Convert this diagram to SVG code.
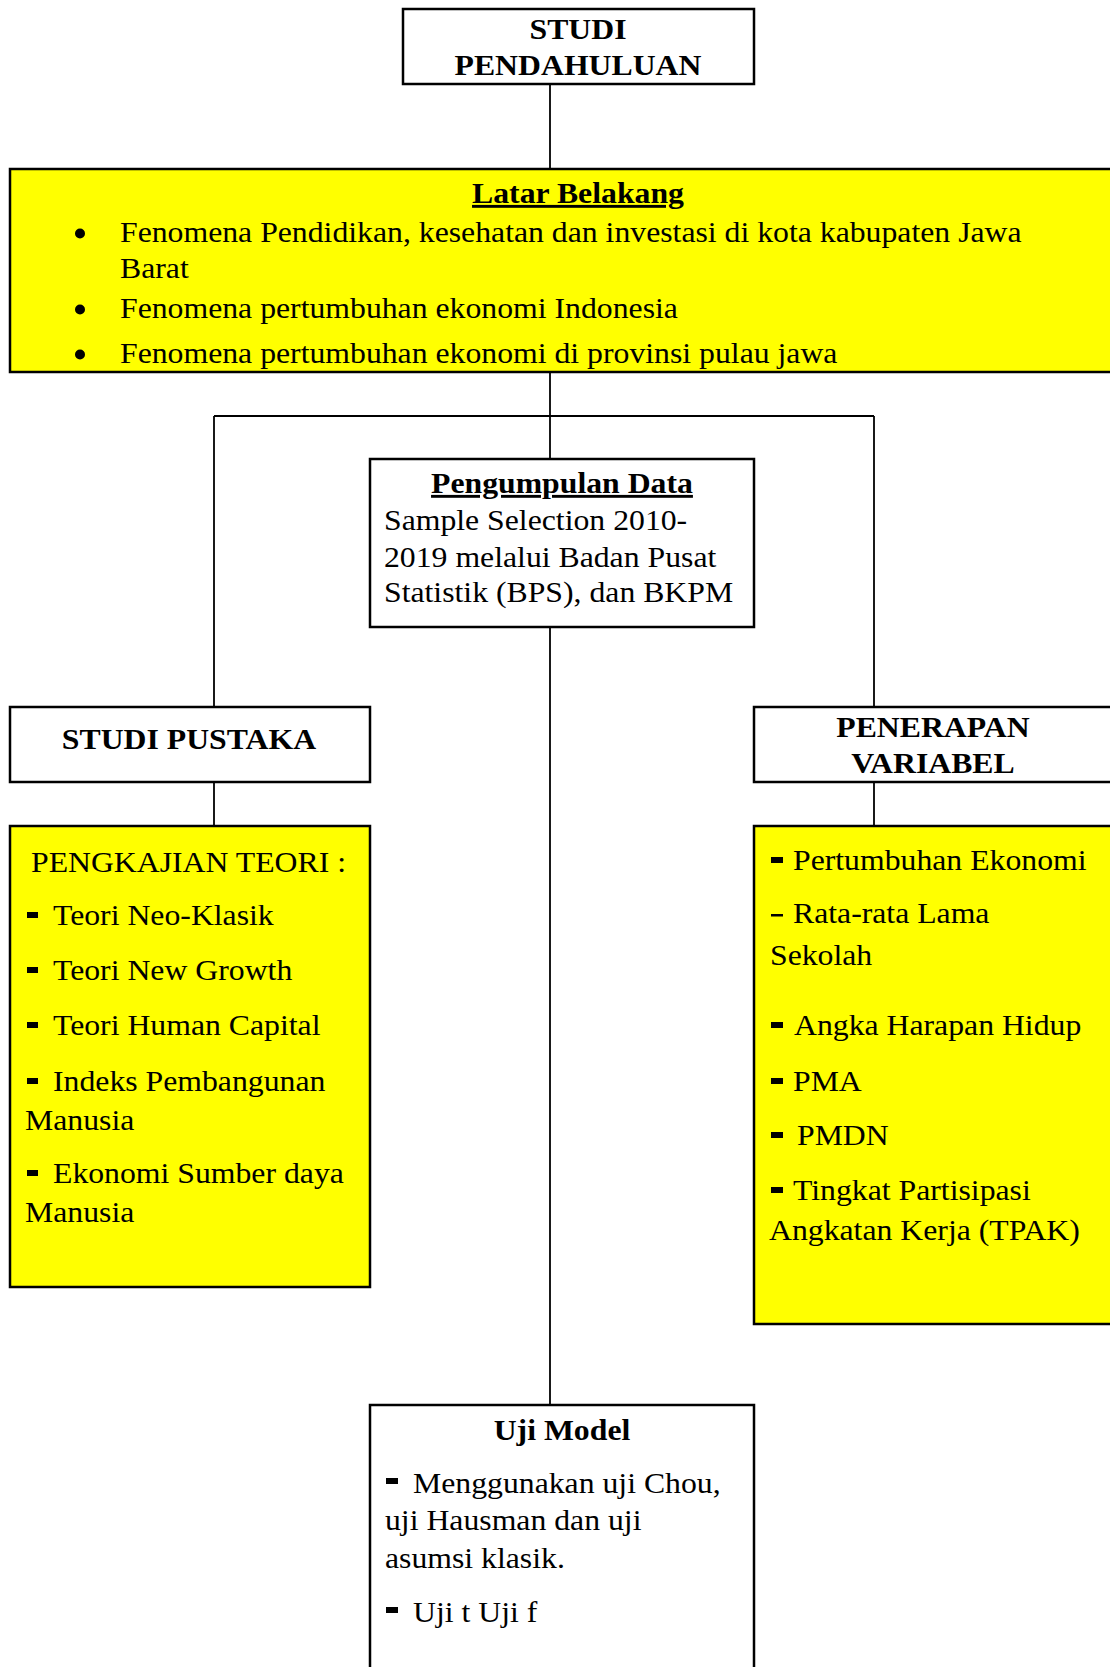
<svg xmlns="http://www.w3.org/2000/svg" width="1110" height="1667" viewBox="0 0 1110 1667">
<style>
.box{fill:#ffffff;stroke:#000;stroke-width:2.5}
.ybox{fill:#ffff00;stroke:#000;stroke-width:2.5}
.conn{stroke:#000;stroke-width:1.8;fill:none}
text{font-family:"Liberation Serif","Times New Roman",serif;font-size:29px;fill:#000}
.b{font-weight:bold}
.c{text-anchor:middle}
.u{text-decoration:underline}
.dot{fill:#000}
</style>
<rect width="1110" height="1667" fill="#ffffff"/>
<g id="connectors">
<line class="conn" x1="550" y1="84" x2="550" y2="169"/>
<line class="conn" x1="550" y1="372" x2="550" y2="459"/>
<line class="conn" x1="214" y1="416" x2="874" y2="416"/>
<line class="conn" x1="214" y1="416" x2="214" y2="707"/>
<line class="conn" x1="874" y1="416" x2="874" y2="707"/>
<line class="conn" x1="214" y1="782" x2="214" y2="826"/>
<line class="conn" x1="874" y1="782" x2="874" y2="826"/>
<line class="conn" x1="550" y1="627" x2="550" y2="1405"/>
</g>
<g id="studi-pendahuluan">
<rect class="box" x="403" y="9" width="351" height="75"/>
<g transform="scale(1.095,1)">
<text class="b c" x="527.85" y="39">STUDI</text>
<text class="b c" x="527.85" y="75">PENDAHULUAN</text>
</g>
</g>
<g id="latar-belakang">
<rect class="ybox" x="10" y="169" width="1140" height="203"/>
<circle class="dot" cx="80" cy="233.5" r="5"/>
<circle class="dot" cx="80" cy="309.5" r="5"/>
<circle class="dot" cx="80" cy="354.5" r="5"/>
<g transform="scale(1.095,1)">
<text class="b c u" x="527.85" y="203">Latar Belakang</text>
<text x="109.59" y="242">Fenomena Pendidikan, kesehatan dan investasi di kota kabupaten Jawa</text>
<text x="109.59" y="278">Barat</text>
<text x="109.59" y="318">Fenomena pertumbuhan ekonomi Indonesia</text>
<text x="109.59" y="363">Fenomena pertumbuhan ekonomi di provinsi pulau jawa</text>
</g>
</g>
<g id="pengumpulan-data">
<rect class="box" x="370" y="459" width="384" height="168"/>
<g transform="scale(1.095,1)">
<text class="b c u" x="513.24" y="493">Pengumpulan Data</text>
<text x="350.68" y="530">Sample Selection 2010-</text>
<text x="350.68" y="567">2019 melalui Badan Pusat</text>
<text x="350.68" y="602">Statistik (BPS), dan BKPM</text>
</g>
</g>
<g id="studi-pustaka">
<rect class="box" x="10" y="707" width="360" height="75"/>
<g transform="scale(1.095,1)">
<text class="b c" x="172.6" y="749">STUDI PUSTAKA</text>
</g>
</g>
<g id="penerapan-variabel">
<rect class="box" x="754" y="707" width="370" height="75"/>
<g transform="scale(1.095,1)">
<text class="b c" x="852.05" y="737">PENERAPAN</text>
<text class="b c" x="852.05" y="773">VARIABEL</text>
</g>
</g>
<g id="pengkajian-teori">
<rect class="ybox" x="10" y="826" width="360" height="461"/>
<rect class="dot" x="27" y="912" width="11" height="6"/>
<rect class="dot" x="27" y="967" width="11" height="6"/>
<rect class="dot" x="27" y="1022" width="11" height="6"/>
<rect class="dot" x="27" y="1078" width="11" height="6"/>
<rect class="dot" x="27" y="1170" width="11" height="6"/>
<g transform="scale(1.095,1)">
<text x="28.31" y="872">PENGKAJIAN TEORI :</text>
<text x="48.4" y="925">Teori Neo-Klasik</text>
<text x="48.4" y="980">Teori New Growth</text>
<text x="48.4" y="1035">Teori Human Capital</text>
<text x="48.4" y="1091">Indeks Pembangunan</text>
<text x="22.83" y="1130">Manusia</text>
<text x="48.4" y="1183">Ekonomi Sumber daya</text>
<text x="22.83" y="1222">Manusia</text>
</g>
</g>
<g id="variabel-list">
<rect class="ybox" x="754" y="826" width="370" height="498"/>
<rect class="dot" x="771" y="857" width="12" height="6"/>
<rect class="dot" x="771" y="914" width="12" height="2.5"/>
<rect class="dot" x="771" y="1022" width="12" height="6"/>
<rect class="dot" x="771" y="1078" width="12" height="6"/>
<rect class="dot" x="771" y="1132" width="12" height="6"/>
<rect class="dot" x="771" y="1187" width="12" height="6"/>
<g transform="scale(1.095,1)">
<text x="724.2" y="870">Pertumbuhan Ekonomi</text>
<text x="724.2" y="923">Rata-rata Lama</text>
<text x="703.2" y="965">Sekolah</text>
<text x="725.11" y="1035">Angka Harapan Hidup</text>
<text x="724.2" y="1091">PMA</text>
<text x="727.85" y="1145">PMDN</text>
<text x="724.2" y="1200">Tingkat Partisipasi</text>
<text x="702.28" y="1240">Angkatan Kerja (TPAK)</text>
</g>
</g>
<g id="uji-model">
<rect class="box" x="370" y="1405" width="384" height="280"/>
<rect class="dot" x="386" y="1478" width="12" height="6"/>
<rect class="dot" x="386" y="1607" width="12" height="6"/>
<g transform="scale(1.095,1)">
<text class="b c" x="513.24" y="1440">Uji Model</text>
<text x="377.17" y="1493">Menggunakan uji Chou,</text>
<text x="351.6" y="1530">uji Hausman dan uji</text>
<text x="351.6" y="1568">asumsi klasik.</text>
<text x="377.17" y="1622">Uji t Uji f</text>
</g>
</g>
</svg>
